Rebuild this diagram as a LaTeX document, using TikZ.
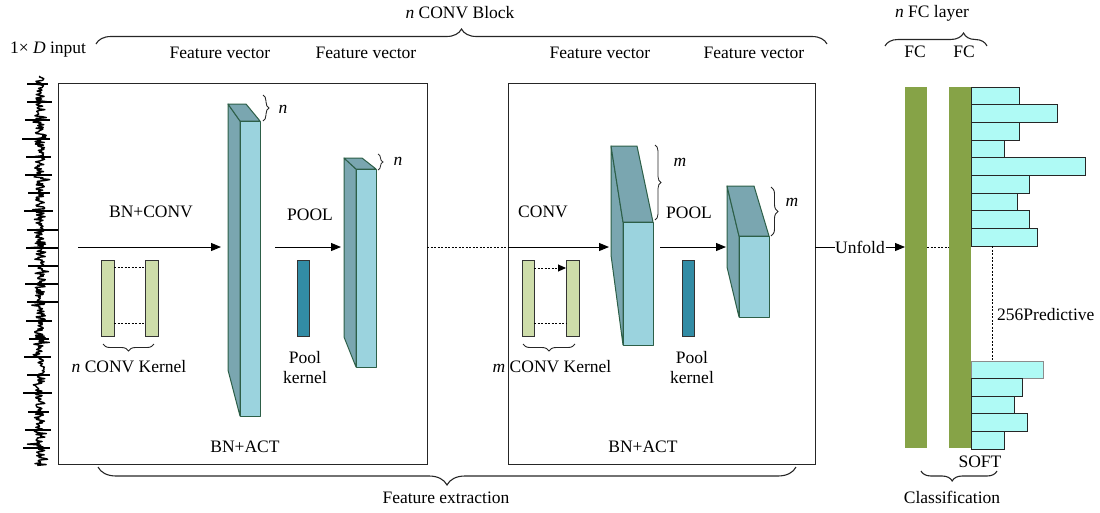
\documentclass[tikz,border=0pt]{standalone}
\usepackage{fontspec}
\setmainfont{Liberation Serif}
\usetikzlibrary{arrows.meta,decorations.pathreplacing,calc}
\definecolor{prismfront}{RGB}{155,211,222}
\definecolor{prismside}{RGB}{122,166,176}
\definecolor{prismedge}{RGB}{45,95,72}
\definecolor{kern}{RGB}{206,221,170}
\definecolor{poolk}{RGB}{50,140,165}
\definecolor{fcgreen}{RGB}{134,163,71}
\definecolor{histc}{RGB}{175,250,245}
\begin{document}
\begin{tikzpicture}[x=1pt,y=-1pt,font=\fontsize{17.5}{21}\selectfont,
  blk/.style={draw=black!85,line width=1pt,inner sep=0pt,outer sep=0pt},
  pside/.style={fill=prismside,draw=prismedge,line width=1pt,line join=round},
  pfront/.style={fill=prismfront,draw=prismedge,line width=1pt,line join=round},
  kernbox/.style={fill=kern,draw=black!80,line width=0.9pt,inner sep=0pt,outer sep=0pt,minimum height=76pt},
  poolbox/.style={fill=poolk,draw=black!80,line width=0.9pt,inner sep=0pt,outer sep=0pt,minimum height=76pt,minimum width=12pt},
  fcbar/.style={fill=fcgreen,inner sep=0pt,outer sep=0pt,minimum width=22pt,minimum height=361pt},
  hist/.style={fill=histc,draw=black!85,line width=1pt},
  arr/.style={-{Triangle[length=10pt,width=8pt]},line width=1pt},
  dots/.style={dash pattern=on 2pt off 1.5pt,line width=0.9pt},
  brc/.style={decorate,line width=1.1pt,draw=black!85},
  lbl/.style={inner sep=1pt}]
\useasboundingbox (0,0) rectangle (1100,512);

% ---------- input waveform ----------
\pgfmathsetseed{3}
\draw[line width=1.4pt,line join=round] (40,76) \foreach \k in {1,...,440} { -- ({40+5*rand+9*rand*rand*rand},{76+0.885*\k}) };
\foreach \y/\l/\r in {84/27/48,102/27/52,120/25/50,139/22/50,157/26/51,175/25/52,193/28/50,211/24/53,
  230/27/58,248/26/58,266/28/58,284/25/58,302/27/58,321/26/52,339/29/49,357/24/51,375/27/50,393/23/52,
  412/28/49,430/25/51,448/23/50}
  \draw[line width=1.1pt] (\l,\y) -- (\r,\y);

% ---------- blocks ----------
\node[blk,minimum width=369pt,minimum height=381pt] (box1) at (242.5,273.5) {};
\node[blk,minimum width=307pt,minimum height=381pt] (box2) at (661.5,273.5) {};

% ---------- top labels ----------
\node[lbl] (inp) at (48,50) {1× \textit{D} input};
\node[lbl] (ncb) at (460,13) {\textit{n} CONV Block};
\node[lbl] (fv1) at (220,53) {Feature vector};
\node[lbl] (fv2) at (366,53) {Feature vector};
\node[lbl] (fv3) at (600,53) {Feature vector};
\node[lbl] (fv4) at (754,53) {Feature vector};
\node[lbl] (nfc) at (932,13) {\textit{n} FC layer};
\node[lbl] (fca) at (915,52) {FC};
\node[lbl] (fcb) at (964,52) {FC};
\draw[brc,decoration={brace,amplitude=15pt}] (96,44) -- (827,44);
\draw[brc,decoration={brace,amplitude=13pt,aspect=0.77}] (885,46) -- (987,46);

% ---------- block 1 ----------
\node[lbl] (bnconv) at (151,212) {BN+CONV};
\node[kernbox,minimum width=13pt] (k1) at (107.5,298) {};
\node[kernbox,minimum width=13pt] (k2) at (151.5,298) {};
\draw[dots] ($(k1.north east)+(0,7)$) -- ($(k2.north west)+(0,7)$);
\draw[dots] ($(k1.south east)+(0,-13)$) -- ($(k2.south west)+(0,-13)$);
\draw[brc,line width=0.9pt,decoration={brace,amplitude=7pt}] (154,344) -- (103,344);
\node[lbl] (nck) at (129,367) {\textit{n} CONV Kernel};

% prism 1
\filldraw[pside] (228,104) -- (240,121) -- (240,416) -- (228,370) -- cycle;
\filldraw[pside] (228,104) -- (246,104) -- (260,121) -- (240,121) -- cycle;
\filldraw[pfront] (240,121) rectangle (260,416);
\coordinate (p1in) at (221,247);
\coordinate (s1) at (78,247);
\draw[arr] (s1) -- (p1in);
\draw[brc,line width=0.9pt,decoration={brace,amplitude=6pt}] (263,95) -- (263,121);
\node[lbl] (n1) at (283,109) {\textit{n}};

% pool 1
\node[lbl] (pool1) at (310,215) {POOL};
\coordinate (p1out) at (275,247);
\coordinate (p2in) at (341,247);
\draw[arr] (p1out) -- (p2in);
\node[poolbox] (pk1) at (303,298) {};
\node[lbl,align=center,font=\fontsize{17.5}{20}\selectfont] (pkl1) at (305,368) {Pool\\kernel};

% prism 2
\filldraw[pside] (344,158) -- (356,169) -- (356,367) -- (344,337) -- cycle;
\filldraw[pside] (344,158) -- (362,158) -- (376,169) -- (356,169) -- cycle;
\filldraw[pfront] (356,169) rectangle (376,367);
\draw[brc,line width=0.8pt,decoration={brace,amplitude=5pt}] (378,154) -- (378,170);
\node[lbl] (n2) at (398,161) {\textit{n}};

\node[lbl] (bnact1) at (245,447) {BN+ACT};

% ---------- between blocks ----------
\coordinate (b1r) at (427,247);
\coordinate (b2l) at (508,247);
\coordinate (p3in) at (609,247);
\draw[dots] (b1r) -- (b2l);
\draw[arr] (b2l) -- (p3in);

% ---------- block 2 ----------
\node[lbl] (conv2) at (543,212) {CONV};
\node[kernbox,minimum width=12pt] (k3) at (528,298) {};
\node[kernbox,minimum width=13pt] (k4) at (572.5,298) {};
\draw[dots,-{Triangle[length=8pt,width=7pt]}] ($(k3.north east)+(0,8)$) -- ($(k4.north west)+(0,8)$);
\draw[dots] ($(k3.south east)+(0,-13)$) -- ($(k4.south west)+(0,-13)$);
\draw[brc,line width=0.9pt,decoration={brace,amplitude=7pt}] (575,344) -- (523,344);
\node[lbl] (mck) at (552,367) {\textit{m} CONV Kernel};

% prism 3
\filldraw[pside] (611,146) -- (623,222) -- (623,345) -- (611,255) -- cycle;
\filldraw[pside] (611,146) -- (637,146) -- (653,222) -- (623,222) -- cycle;
\filldraw[pfront] (623,222) rectangle (653,345);
\draw[brc,line width=0.8pt,decoration={brace,amplitude=6pt}] (655,145) -- (655,220);
\node[lbl] (m1) at (680,162) {\textit{m}};

% pool 2
\node[lbl] (pool2) at (689,213) {POOL};
\coordinate (p3out) at (660,247);
\coordinate (p4in) at (726,247);
\draw[arr] (p3out) -- (p4in);
\node[poolbox] (pk2) at (688,298) {};
\node[lbl,align=center,font=\fontsize{17.5}{20}\selectfont] (pkl2) at (692,368) {Pool\\kernel};

% prism 4
\filldraw[pside] (727,186) -- (739,236) -- (739,317) -- (727,267) -- cycle;
\filldraw[pside] (727,186) -- (754,186) -- (769,236) -- (739,236) -- cycle;
\filldraw[pfront] (739,236) rectangle (769,317);
\draw[brc,line width=0.9pt,decoration={brace,amplitude=7pt}] (771,187) -- (771,236);
\node[lbl] (m2) at (792,202) {\textit{m}};

\node[lbl] (bnact2) at (643,447) {BN+ACT};

% ---------- classification ----------
\node[fcbar] (fc1) at (916,267.5) {};
\node[fcbar] (fc2) at (960,267.5) {};
\node[inner sep=0.5pt] (unf) at (860,247) {Unfold};
\coordinate (b2r) at (815,247);
\draw[line width=1pt] (b2r) -- (unf.west);
\draw[arr] (unf.east) -- (fc1.west |- unf);
\draw[dots] (fc1.east |- unf) -- (fc2.west |- unf);

% histogram
\foreach \a/\b/\r in {87/104.7/1019,104.7/122.3/1057,122.3/140/1019,140/157.7/1004,157.7/175.3/1085,
  175.3/193/1029,193/210.7/1017,210.7/228.3/1029,228.3/246/1037}
  \filldraw[hist] (971,\a) rectangle (\r,\b);
\filldraw[fill=histc,draw=black!45,line width=1pt] (971,361) rectangle (1043,378.6);
\foreach \a/\b/\r in {378.6/396.2/1022,396.2/413.8/1014,413.8/431.4/1027,431.4/449/1004}
  \filldraw[hist] (971,\a) rectangle (\r,\b);
\coordinate (hA) at (992,246);
\coordinate (hB) at (992,361);
\draw[dots] (hA) -- (hB);
\node[lbl,anchor=west] (pred) at (996,315) {256Predictive};

\node[lbl] (soft) at (980,462) {SOFT};
\draw[brc,decoration={brace,amplitude=10pt,aspect=0.59}] (997,471) -- (921,471);
\node[lbl] (cls) at (952,497) {Classification};

% ---------- feature extraction ----------
\draw[brc,decoration={brace,amplitude=18pt}] (796,467) -- (98,467);
\node[lbl] (fe) at (446,498) {Feature extraction};
\end{tikzpicture}
\end{document}
